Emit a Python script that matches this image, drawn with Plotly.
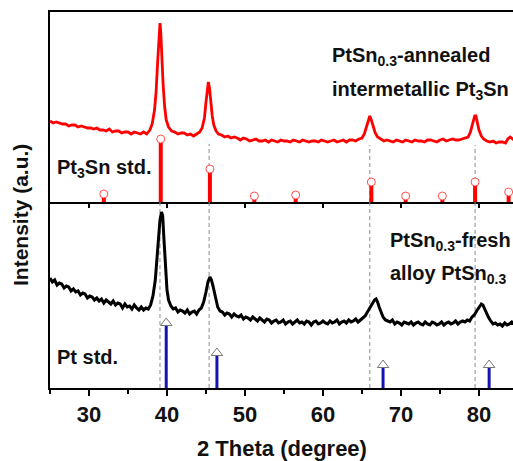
import plotly.graph_objects as go
from plotly.subplots import make_subplots

# --- PtSn0.3 annealed (intermetallic Pt3Sn) pattern ---
annealed_2theta = [
    25.0, 25.4, 25.8, 26.2, 26.6, 27.0, 27.4, 27.8, 28.2, 28.6, 29.0, 29.4, 29.8, 30.2, 30.6,
    31.0, 31.4, 31.8, 32.2, 32.6, 33.0, 33.4, 33.8, 34.2, 34.6, 35.0, 35.4, 35.8, 36.2, 36.6,
    37.0, 37.4, 37.8, 38.1, 38.4, 38.6, 38.8, 39.0, 39.1, 39.2, 39.35, 39.5, 39.7, 39.9, 40.2,
    40.6, 41.0, 41.4, 41.8, 42.2, 42.6, 43.0, 43.4, 43.8, 44.2, 44.5, 44.8, 45.0, 45.2, 45.3,
    45.45, 45.6, 45.8, 46.0, 46.3, 46.6, 47.0, 47.4, 47.8, 48.2, 48.6, 49.0, 49.4, 49.8, 50.2,
    50.6, 51.0, 51.4, 51.8, 52.2, 52.6, 53.0, 53.4, 53.8, 54.2, 54.6, 55.0, 55.4, 55.8, 56.2,
    56.6, 57.0, 57.4, 57.8, 58.2, 58.6, 59.0, 59.4, 59.8, 60.2, 60.6, 61.0, 61.4, 61.8, 62.2,
    62.6, 63.0, 63.4, 63.8, 64.2, 64.6, 65.0, 65.3, 65.6, 65.85, 66.0, 66.2, 66.4, 66.7, 67.0,
    67.4, 67.8, 68.2, 68.6, 69.0, 69.4, 69.8, 70.2, 70.6, 71.0, 71.4, 71.8, 72.2, 72.6, 73.0,
    73.4, 73.8, 74.2, 74.6, 75.0, 75.4, 75.8, 76.2, 76.6, 77.0, 77.4, 77.8, 78.2, 78.6, 78.9,
    79.2, 79.45, 79.6, 79.8, 80.0, 80.3, 80.6, 81.0, 81.4, 81.8, 82.2, 82.6, 83.0, 83.4, 83.7,
    84.0, 84.3, 84.5,
]
annealed_intensity = [
    81, 79, 80, 79, 78, 78, 76, 77, 77, 75, 76, 75, 74, 74, 73,
    74, 72, 72, 71, 73, 70, 71, 71, 69, 70, 70, 68, 70, 69, 68,
    70, 68, 72, 78, 92, 110, 140, 172, 179, 170, 142, 118, 95, 82, 75,
    71, 70, 68, 69, 69, 67, 68, 66, 68, 70, 74, 84, 100, 116, 120,
    114, 100, 86, 77, 71, 68, 67, 65, 66, 64, 65, 64, 62, 64, 63,
    61, 62, 63, 61, 61, 62, 60, 62, 61, 60, 62, 61, 61, 60, 62,
    61, 60, 62, 61, 60, 61, 61, 60, 62, 61, 60, 61, 62, 60, 61,
    62, 60, 62, 62, 61, 63, 64, 68, 76, 84, 86, 82, 76, 69, 65,
    63, 61, 62, 61, 60, 62, 61, 60, 62, 61, 60, 62, 61, 61, 60,
    62, 62, 61, 60, 62, 63, 61, 62, 63, 62, 62, 63, 64, 65, 70,
    79, 86, 86, 80, 72, 66, 63, 61, 60, 61, 59, 60, 60, 59, 63,
    65, 63, 62,
]

# --- PtSn0.3 fresh (alloy) pattern ---
fresh_2theta = [
    25.0, 25.3, 25.6, 25.9, 26.2, 26.5, 26.8, 27.1, 27.4, 27.7, 28.0, 28.3, 28.6, 28.9, 29.2,
    29.5, 29.8, 30.1, 30.4, 30.7, 31.0, 31.3, 31.6, 31.9, 32.2, 32.5, 32.8, 33.1, 33.4, 33.7,
    34.0, 34.3, 34.6, 34.9, 35.2, 35.5, 35.8, 36.1, 36.4, 36.7, 37.0, 37.3, 37.6, 37.9, 38.2,
    38.5, 38.7, 38.9, 39.1, 39.3, 39.45, 39.6, 39.8, 40.0, 40.2, 40.5, 40.8, 41.1, 41.4, 41.7,
    42.0, 42.3, 42.6, 42.9, 43.2, 43.5, 43.8, 44.1, 44.4, 44.7, 45.0, 45.25, 45.5, 45.7, 45.9,
    46.1, 46.3, 46.5, 46.8, 47.1, 47.4, 47.7, 48.0, 48.3, 48.6, 48.9, 49.2, 49.5, 49.8, 50.1,
    50.4, 50.7, 51.0, 51.3, 51.6, 51.9, 52.2, 52.5, 52.8, 53.1, 53.4, 53.7, 54.0, 54.3, 54.6,
    54.9, 55.2, 55.5, 55.8, 56.1, 56.4, 56.7, 57.0, 57.3, 57.6, 57.9, 58.2, 58.5, 58.8, 59.1,
    59.4, 59.7, 60.0, 60.3, 60.6, 60.9, 61.2, 61.5, 61.8, 62.1, 62.4, 62.7, 63.0, 63.3, 63.6,
    63.9, 64.2, 64.5, 64.8, 65.1, 65.4, 65.7, 66.0, 66.3, 66.6, 66.8, 67.0, 67.2, 67.4, 67.7,
    68.0, 68.3, 68.6, 68.9, 69.2, 69.5, 69.8, 70.1, 70.4, 70.7, 71.0, 71.3, 71.6, 71.9, 72.2,
    72.5, 72.8, 73.1, 73.4, 73.7, 74.0, 74.3, 74.6, 74.9, 75.2, 75.5, 75.8, 76.1, 76.4, 76.7,
    77.0, 77.3, 77.6, 77.9, 78.2, 78.5, 78.8, 79.1, 79.4, 79.7, 80.0, 80.3, 80.5, 80.7, 80.9,
    81.2, 81.5, 81.8, 82.1, 82.4, 82.7, 83.0, 83.3, 83.6, 83.9, 84.2, 84.5,
]
fresh_intensity = [
    110, 106, 108, 103, 105, 104, 100, 102, 101, 97, 99, 96, 97, 93, 95,
    94, 90, 92, 91, 88, 90, 87, 89, 85, 88, 86, 84, 87, 83, 85,
    84, 80, 84, 81, 82, 79, 83, 80, 78, 81, 78, 80, 79, 83, 92,
    108, 128, 150, 168, 176, 172, 150, 120, 98, 88, 82, 79, 80, 76, 78,
    77, 75, 78, 74, 76, 77, 74, 78, 80, 86, 96, 106, 111, 108, 102,
    96, 88, 81, 77, 76, 73, 75, 74, 71, 74, 72, 71, 73, 69, 71,
    70, 68, 71, 69, 67, 70, 68, 66, 69, 68, 65, 67, 68, 65, 66,
    68, 64, 66, 67, 64, 66, 68, 65, 66, 64, 67, 66, 63, 66, 67,
    64, 65, 67, 65, 64, 67, 65, 66, 68, 64, 66, 67, 65, 68, 66,
    67, 69, 66, 68, 70, 72, 76, 80, 84, 88, 89, 86, 81, 76, 71,
    68, 67, 66, 68, 64, 66, 65, 63, 66, 65, 64, 66, 63, 65, 66,
    64, 63, 66, 64, 63, 66, 65, 63, 64, 66, 63, 65, 66, 64, 65,
    67, 64, 66, 67, 66, 68, 67, 71, 73, 77, 81, 84, 83, 79, 75,
    71, 67, 64, 65, 63, 64, 62, 65, 63, 64, 66, 64,
]

# --- Reference patterns ---
pt3sn_std_2theta = [31.9, 39.2, 45.5, 51.2, 56.5, 66.2, 70.6, 75.3, 79.5, 83.8]
pt3sn_std_intensity = [8, 63, 33, 6, 7, 20, 6, 6, 20, 10]

pt_std_2theta = [39.9, 46.4, 67.7, 81.3]
pt_std_intensity = [65, 35, 23, 23]

# Guide lines through the Pt3Sn reflections
guide_2theta = [39.1, 45.4, 66.0, 79.5]
guide_top = [60, 58, 57, 57]

RED = "#ff0000"
BLUE = "#1414b4"
FONT = "Liberation Sans, Arial, sans-serif"

fig = make_subplots(rows=2, cols=1, shared_xaxes=False, vertical_spacing=0)


def stem_xy(xs, hs):
    sx, sy = [], []
    for x, h in zip(xs, hs):
        sx += [x, x, None]
        sy += [0, h, None]
    return sx, sy


# dashed guides
for gx, gt in zip(guide_2theta, guide_top):
    fig.add_trace(go.Scatter(x=[gx, gx], y=[0, gt], mode="lines",
                             line=dict(color="#8c8c8c", width=1, dash="4px,3px"),
                             hoverinfo="skip", showlegend=False), row=1, col=1)
    fig.add_trace(go.Scatter(x=[gx, gx], y=[0, 186], mode="lines",
                             line=dict(color="#8c8c8c", width=1, dash="4px,3px"),
                             hoverinfo="skip", showlegend=False), row=2, col=1)

fig.add_trace(go.Scatter(x=annealed_2theta, y=annealed_intensity, mode="lines",
                         line=dict(color=RED, width=2.8), showlegend=False), row=1, col=1)

sx, sy = stem_xy(pt3sn_std_2theta, pt3sn_std_intensity)
fig.add_trace(go.Scatter(x=sx, y=sy, mode="lines", line=dict(color=RED, width=4),
                         showlegend=False), row=1, col=1)
fig.add_trace(go.Scatter(x=pt3sn_std_2theta, y=pt3sn_std_intensity, mode="markers",
                         marker=dict(symbol="circle", size=8, color="white",
                                     line=dict(color="#ff5050", width=1)),
                         showlegend=False), row=1, col=1)

fig.add_trace(go.Scatter(x=fresh_2theta, y=fresh_intensity, mode="lines",
                         line=dict(color="black", width=3), showlegend=False), row=2, col=1)

sx, sy = stem_xy(pt_std_2theta, pt_std_intensity)
fig.add_trace(go.Scatter(x=sx, y=sy, mode="lines", line=dict(color=BLUE, width=3),
                         showlegend=False), row=2, col=1)
fig.add_trace(go.Scatter(x=pt_std_2theta, y=pt_std_intensity, mode="markers",
                         marker=dict(symbol="triangle-up", size=10, color="white",
                                     line=dict(color="#777777", width=1)),
                         showlegend=False), row=2, col=1)

XR = [25, 84.36]
tickfont = dict(family=FONT, size=22, color="#111111", weight="bold")

fig.update_xaxes(row=1, col=1, range=XR, showline=True, linewidth=2, linecolor="black",
                 mirror=True, ticks="outside", ticklen=4, tickwidth=2, tickcolor="black",
                 dtick=10, tick0=0, showticklabels=False, showgrid=False, zeroline=False)
fig.update_xaxes(row=2, col=1, range=XR, showline=True, linewidth=2, linecolor="black",
                 ticks="outside", ticklen=6, tickwidth=2, tickcolor="black",
                 dtick=10, tick0=0, tickfont=tickfont, showgrid=False, zeroline=False,
                 minor=dict(dtick=5, tick0=0, ticks="outside", ticklen=4, tickwidth=2,
                            tickcolor="black", showgrid=False))
fig.update_yaxes(row=1, col=1, range=[0, 190], showline=True, linewidth=2, linecolor="black",
                 showticklabels=False, ticks="", showgrid=False, zeroline=False)
fig.update_yaxes(row=2, col=1, range=[0, 186], showline=True, linewidth=2, linecolor="black",
                 showticklabels=False, ticks="", showgrid=False, zeroline=False)

split = 186 / 376
fig.update_layout(yaxis=dict(domain=[split, 1]), yaxis2=dict(domain=[0, split]))

W, H = 513, 461
ML, MR, MT, MB = 50, 0, 12, 73
PW, PH = W - ML - MR, H - MT - MB


def px(x):
    return (x - ML) / PW


def py(y):
    return (H - MB - y) / PH


labels = [
    ("PtSn<sub>0.3</sub>-annealed", 330, 57),
    ("intermetallic Pt<sub>3</sub>Sn", 330, 90),
    ("Pt<sub>3</sub>Sn std.", 55, 169),
    ("PtSn<sub>0.3</sub>-fresh", 388, 241),
    ("alloy PtSn<sub>0.3</sub>", 388, 274),
    ("Pt std.", 55, 357),
]
annotations = []
for text, x, y in labels:
    annotations.append(dict(text=text, x=px(x), y=py(y), xref="paper", yref="paper",
                            xanchor="left", yanchor="middle", showarrow=False,
                            font=dict(family=FONT, size=20, color="#111111", weight="bold")))

annotations.append(dict(text="Intensity (a.u.)", x=px(20), y=py(215), xref="paper",
                        yref="paper", xanchor="center", yanchor="middle", textangle=-90,
                        showarrow=False,
                        font=dict(family=FONT, size=21, color="#111111", weight="bold")))
annotations.append(dict(text="2 Theta (degree)", x=px(282), y=py(448), xref="paper",
                        yref="paper", xanchor="center", yanchor="middle", showarrow=False,
                        font=dict(family=FONT, size=22, color="#111111", weight="bold")))

fig.update_layout(width=W, height=H, margin=dict(l=ML, r=MR, t=MT, b=MB),
                  paper_bgcolor="white", plot_bgcolor="white",
                  annotations=annotations, showlegend=False)

fig.write_html("out.html")
